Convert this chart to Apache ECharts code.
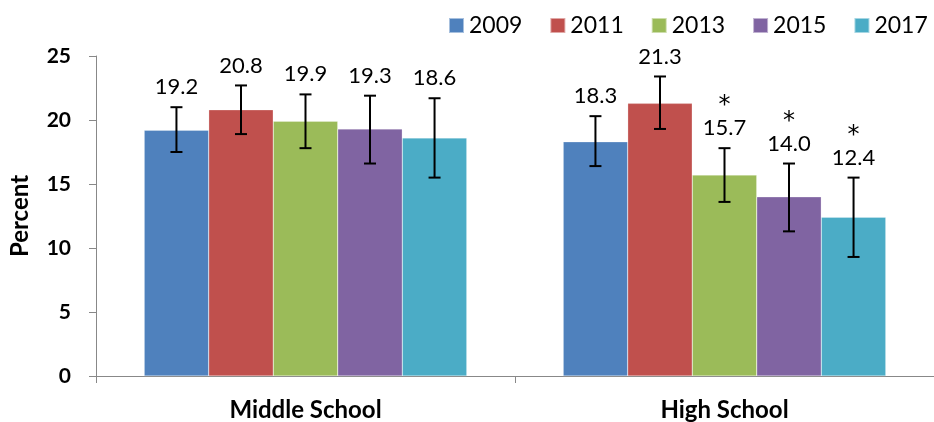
<!DOCTYPE html>
<html><head><meta charset="utf-8">
<script src="https://cdn.jsdelivr.net/npm/echarts@6/dist/echarts.min.js"></script>
<style>html,body{margin:0;padding:0;background:#fff}#c{width:934px;height:422px}</style>
</head><body><div id="c"></div>
<script>
const categories = ['Middle School', 'High School'];
const years = ['2009', '2011', '2013', '2015', '2017'];
const colors = ['#4F81BD', '#C0504D', '#9BBB59', '#8064A2', '#4BACC6'];
const v2009 = [19.2, 18.3];
const v2011 = [20.8, 21.3];
const v2013 = [19.9, 15.7];
const v2015 = [19.3, 14.0];
const v2017 = [18.6, 12.4];
const lo2009 = [17.5, 16.4], hi2009 = [21.0, 20.3];
const lo2011 = [18.9, 19.3], hi2011 = [22.7, 23.4];
const lo2013 = [17.8, 13.6], hi2013 = [22.0, 17.8];
const lo2015 = [16.6, 11.3], hi2015 = [21.9, 16.6];
const lo2017 = [15.5, 9.3], hi2017 = [21.7, 15.5];
const star2009 = [false, false];
const star2011 = [false, false];
const star2013 = [false, true];
const star2015 = [false, true];
const star2017 = [false, true];
const tickLabels = ['0', '5', '10', '15', '20', '25'];

const vals = [v2009, v2011, v2013, v2015, v2017];
const los = [lo2009, lo2011, lo2013, lo2015, lo2017];
const his = [hi2009, hi2011, hi2013, hi2015, hi2017];
const stars = [star2009, star2011, star2013, star2015, star2017];
const FONT = 'Lato';
const catGap = 0.23;

const series = [];
years.forEach((y, i) => {
  series.push({
    name: y, type: 'bar', data: vals[i], barGap: '0%', barCategoryGap: (catGap * 100) + '%',
    itemStyle: { color: colors[i], borderColor: 'rgba(255,255,255,0.5)', borderWidth: 0.5 },
    emphasis: { disabled: true }, z: 2
  });
});
years.forEach((y, i) => {
  series.push({
    type: 'custom', name: 'err' + y, z: 5, silent: true,
    data: categories.map((c, k) => [k, los[i][k], his[i][k], vals[i][k], stars[i][k] ? 1 : 0]),
    renderItem: function (params, api) {
      const k = api.value(0);
      const band = api.size([1, 0])[0];
      const bw = band * (1 - catGap) / years.length;
      const cx = api.coord([k, 0])[0] + (i - (years.length - 1) / 2) * bw;
      const yl = api.coord([k, api.value(1)])[1];
      const yh = api.coord([k, api.value(2)])[1];
      const cap = 6;
      const st = { stroke: '#000', lineWidth: 2 };
      const children = [
        { type: 'line', shape: { x1: cx, y1: yl, x2: cx, y2: yh }, style: st },
        { type: 'line', shape: { x1: cx - cap, y1: yh, x2: cx + cap, y2: yh }, style: st },
        { type: 'line', shape: { x1: cx - cap, y1: yl, x2: cx + cap, y2: yl }, style: st },
        { type: 'text', style: { x: cx, y: yh - 20, text: api.value(3).toFixed(1), align: 'center', verticalAlign: 'middle', font: '22px ' + FONT, fill: '#000' } }
      ];
      if (api.value(4)) {
        children.push({ type: 'text', style: { x: cx, y: yh - 42, text: '*', align: 'center', verticalAlign: 'middle', font: '24px "DejaVu Sans"', fill: '#000' } });
      }
      return { type: 'group', children: children };
    }
  });
});

const chart = echarts.init(document.getElementById('c'), null, { renderer: 'canvas' });
chart.setOption({
  animation: false,
  textStyle: { fontFamily: FONT },
  legend: {
    data: years, top: 14, left: 448, width: 486, padding: 0, itemWidth: 15, itemHeight: 15, itemGap: 27,
    icon: 'rect', textStyle: { fontSize: 23, color: '#000', fontFamily: FONT }
  },
  grid: { left: 93, top: 56, width: 848, height: 320, containLabel: false },
  xAxis: {
    type: 'category', data: categories,
    axisLine: { lineStyle: { color: '#888', width: 1 } },
    axisTick: { show: true, length: 7, lineStyle: { color: '#888' } },
    axisLabel: { fontSize: 24, fontWeight: 'bold', color: '#000', margin: 22, fontFamily: FONT }
  },
  yAxis: {
    type: 'value', min: 0, max: 25, interval: 5,
    name: 'Percent', nameLocation: 'middle', nameGap: 64, nameRotate: 90,
    nameTextStyle: { fontSize: 24, fontWeight: 'bold', color: '#000', fontFamily: FONT },
    axisLine: { show: true, lineStyle: { color: '#888' } },
    axisTick: { show: true, length: 7, lineStyle: { color: '#888' } },
    splitLine: { show: false },
    axisLabel: { fontSize: 21, fontWeight: 'bold', color: '#000', margin: 25, fontFamily: FONT,
      formatter: (v) => tickLabels[Math.round(v / 5)] }
  },
  series: series
});
</script></body></html>
